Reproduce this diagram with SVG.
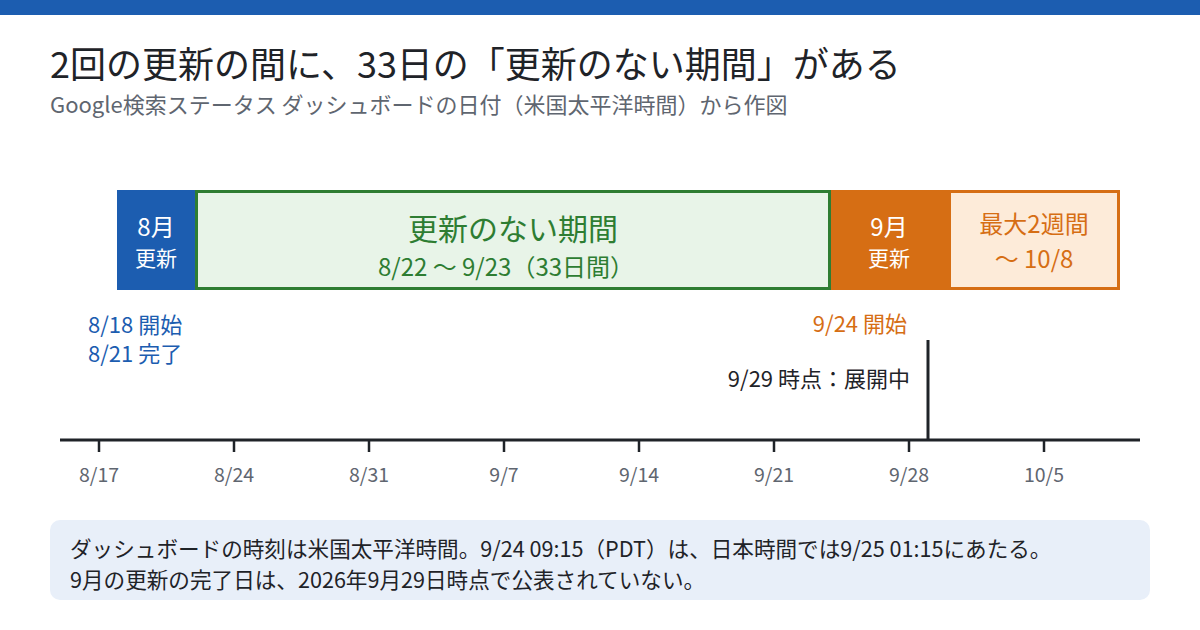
<svg xmlns="http://www.w3.org/2000/svg" width="1200" height="630" viewBox="0 0 1200 630">
<style>
text{font-family:"Noto Sans CJK JP","Noto Sans",sans-serif}
.title{font-size:36px;font-weight:400;fill:#1f2328}
.sub{font-size:22px;fill:#5f6670}
.wt{fill:#ffffff;text-anchor:middle}
.tick{stroke:#1f2328;stroke-width:2.5}
.tl{font-size:19.5px;fill:#5f6670;text-anchor:middle}
.blue{fill:#1c5db0}
.orange{fill:#d66e14}
.green{fill:#2e7d32}
.dark{fill:#1f2328}
.foot{font-size:21.6px;fill:#1f2328}
</style>
<rect x="0" y="0" width="1200" height="15" fill="#1c5db0"/>
<text class="title" x="50" y="78">2回の更新の間に、33日の「更新のない期間」がある</text>
<text class="sub" x="50" y="113">Google検索ステータス ダッシュボードの日付（米国太平洋時間）から作図</text>

<g id="aug-update">
<rect x="117" y="190" width="78" height="100" fill="#1c5db0"/>
<text class="wt" x="156" y="236" font-size="24">8月</text>
<text class="wt" x="156" y="266" font-size="21">更新</text>
</g>
<g id="no-update">
<rect x="196.5" y="191.5" width="633" height="97" fill="#e8f4e8" stroke="#2e7d32" stroke-width="3"/>
<text class="green" x="513" y="240" font-size="30" text-anchor="middle">更新のない期間</text>
<text class="green" x="506" y="276" font-size="24" text-anchor="middle">8/22 〜 9/23（33日間）</text>
</g>
<g id="sep-update">
<rect x="831" y="190" width="117" height="100" fill="#d66e14"/>
<text class="wt" x="889" y="236" font-size="24">9月</text>
<text class="wt" x="889" y="266" font-size="21">更新</text>
</g>
<g id="max-2weeks">
<rect x="949.5" y="191.5" width="169" height="97" fill="#fdebd9" stroke="#d66e14" stroke-width="3"/>
<text class="orange" x="1034" y="233" font-size="24" text-anchor="middle">最大2週間</text>
<text class="orange" x="1034" y="268" font-size="24" text-anchor="middle">〜 10/8</text>
</g>

<g id="labels">
<text class="blue" x="88" y="333" font-size="22">8/18 開始</text>
<text class="blue" x="88" y="362" font-size="22">8/21 完了</text>
<text class="orange" x="907" y="332" font-size="22" text-anchor="end">9/24 開始</text>
<text class="dark" x="910" y="387" font-size="22" text-anchor="end">9/29 時点：展開中</text>
</g>

<g id="connectors">
<line x1="60" y1="440" x2="1140" y2="440" stroke="#1f2328" stroke-width="3"/>
<line x1="928" y1="340" x2="928" y2="440" stroke="#1f2328" stroke-width="3"/>
<line class="tick" x1="99" y1="440" x2="99" y2="452"/>
<line class="tick" x1="234" y1="440" x2="234" y2="452"/>
<line class="tick" x1="369" y1="440" x2="369" y2="452"/>
<line class="tick" x1="504" y1="440" x2="504" y2="452"/>
<line class="tick" x1="639" y1="440" x2="639" y2="452"/>
<line class="tick" x1="774" y1="440" x2="774" y2="452"/>
<line class="tick" x1="909" y1="440" x2="909" y2="452"/>
<line class="tick" x1="1044" y1="440" x2="1044" y2="452"/>
</g>
<g id="axis-labels">
<text class="tl" x="99" y="482">8/17</text>
<text class="tl" x="234" y="482">8/24</text>
<text class="tl" x="369" y="482">8/31</text>
<text class="tl" x="504" y="482">9/7</text>
<text class="tl" x="639" y="482">9/14</text>
<text class="tl" x="774" y="482">9/21</text>
<text class="tl" x="909" y="482">9/28</text>
<text class="tl" x="1044" y="482">10/5</text>
</g>

<g id="note">
<rect x="50" y="520" width="1100" height="80" rx="10" fill="#e8eff9"/>
<text class="foot" x="70" y="557">ダッシュボードの時刻は米国太平洋時間。9/24 09:15（PDT）は、日本時間では9/25 01:15にあたる。</text>
<text class="foot" x="70" y="588">9月の更新の完了日は、2026年9月29日時点で公表されていない。</text>
</g>
</svg>
